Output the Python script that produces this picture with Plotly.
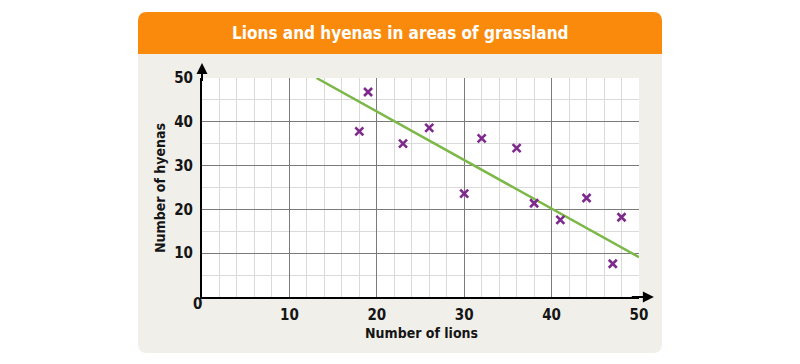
import plotly.graph_objects as go

# ---- data ----
lions = [18, 19, 23, 26, 30, 32, 36, 38, 41, 44, 47, 48]
hyenas = [37.8, 46.8, 35.0, 38.6, 23.6, 36.2, 34.0, 21.4, 17.6, 22.6, 7.6, 18.2]
fit_x = [13.1, 50]
fit_y = [50, 9.1]
tick_vals = [10, 20, 30, 40, 50]
tick_text = ["10", "20", "30", "40", "50"]

title = "Lions and hyenas in areas of grassland"
x_title = "Number of lions"
y_title = "Number of hyenas"

# ---- geometry (window pixels) ----
WIN_W, WIN_H = 800, 364
OFF = 8  # default body margin of the page
L, R, T, B = 202, 639, 78, 297
pw, ph = R - L, B - T

def px(x):
    return (x - L) / pw

def py(y):
    return (B - y) / ph

def rrect(x0, y0, x1, y1, r, top=True, bottom=True):
    rx, ry = r / pw, r / ph
    X0, X1 = px(x0), px(x1)
    Yt, Yb = py(y0), py(y1)
    p = []
    if top:
        p += [f"M{X0},{Yt - ry}", f"Q{X0},{Yt} {X0 + rx},{Yt}",
              f"L{X1 - rx},{Yt}", f"Q{X1},{Yt} {X1},{Yt - ry}"]
    else:
        p += [f"M{X0},{Yt}", f"L{X1},{Yt}"]
    if bottom:
        p += [f"L{X1},{Yb + ry}", f"Q{X1},{Yb} {X1 - rx},{Yb}",
              f"L{X0 + rx},{Yb}", f"Q{X0},{Yb} {X0},{Yb + ry}"]
    else:
        p += [f"L{X1},{Yb}", f"L{X0},{Yb}"]
    p.append("Z")
    return " ".join(p)

FONT = "DejaVu Sans Condensed, Liberation Sans Narrow, Arial Narrow, sans-serif"
TXT = "#151515"

fig = go.Figure()
fig.add_trace(go.Scatter(
    x=fit_x, y=fit_y, mode="lines",
    line=dict(color="#7cb847", width=2.5), hoverinfo="skip", showlegend=False,
))
fig.add_trace(go.Scatter(
    x=lions, y=hyenas, mode="markers",
    marker=dict(symbol="x-thin", size=8, line=dict(color="#7d2a8c", width=2.6)),
    showlegend=False,
))

shapes = [
    dict(type="path", xref="paper", yref="paper", layer="below",
         path=rrect(138, 12, 662, 353, 9), fillcolor="#f1efea", line=dict(width=0)),
    dict(type="path", xref="paper", yref="paper", layer="below",
         path=rrect(138, 12, 662, 54, 9, top=True, bottom=False),
         fillcolor="#fa8a0c", line=dict(width=0)),
    dict(type="rect", xref="paper", yref="paper", layer="below",
         x0=0, x1=1, y0=0, y1=1, fillcolor="white", line=dict(width=0)),
]

def ann(text, x, y, size, color=TXT, angle=0):
    return dict(text=text, x=px(x), y=py(y), xref="paper", yref="paper",
                xanchor="center", yanchor="middle", textangle=angle, showarrow=False,
                font=dict(family=FONT, size=size, color=color, weight="bold"))

annotations = [
    ann(title, 400, 33, 17, color="white"),
    ann(x_title, 421, 333, 14),
    ann(y_title, 160, 188, 14, angle=-90),
    ann("0", 197, 304, 15),
    # axis arrows
    dict(x=0, y=53.4, ax=0, ay=49, xref="x", yref="y", axref="x", ayref="y",
         text="", showarrow=True, arrowhead=2, arrowsize=1.1, arrowwidth=2, arrowcolor="black"),
    dict(x=51.7, y=0, ax=49, ay=0, xref="x", yref="y", axref="x", ayref="y",
         text="", showarrow=True, arrowhead=2, arrowsize=1.1, arrowwidth=2, arrowcolor="black"),
]

axis_common = dict(
    range=[0, 50], tickmode="array", tickvals=tick_vals, ticktext=tick_text,
    showgrid=True, gridcolor="#7a7a7a", gridwidth=1,
    showline=True, linecolor="black", linewidth=2,
    zeroline=False, ticks="",
    tickfont=dict(family=FONT, size=15, color=TXT, weight="bold"),
    fixedrange=True,
)

fig.update_layout(
    width=WIN_W - OFF, height=WIN_H - OFF,
    margin=dict(l=L - OFF, r=WIN_W - R, t=T - OFF, b=WIN_H - B, pad=0),
    paper_bgcolor="white", plot_bgcolor="white",
    shapes=shapes, annotations=annotations,
    xaxis=dict(**axis_common, minor=dict(dtick=2, showgrid=True, gridcolor="#dadada", gridwidth=1),
               ticklabelstandoff=3),
    yaxis=dict(**axis_common, minor=dict(dtick=5, showgrid=True, gridcolor="#dadada", gridwidth=1),
               ticklabelstandoff=4),
)

fig.write_html("out.html")
